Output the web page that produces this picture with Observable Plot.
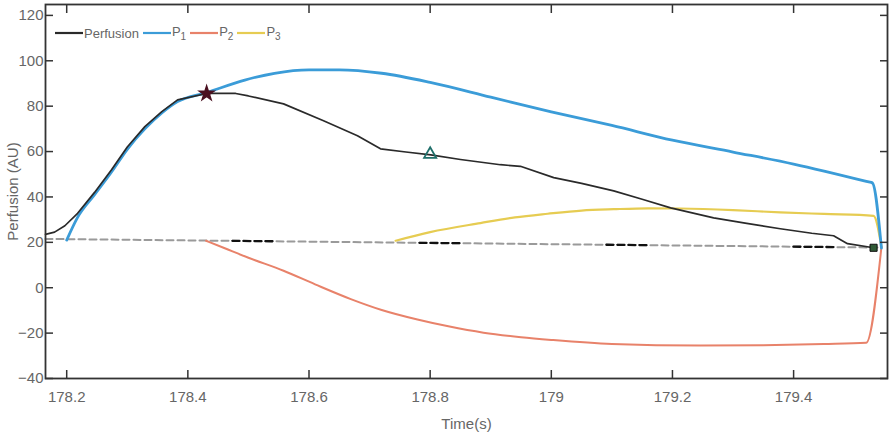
<!DOCTYPE html>
<html><head><meta charset="utf-8">
<script src="https://cdn.jsdelivr.net/npm/d3@7"></script>
<script src="https://cdn.jsdelivr.net/npm/@observablehq/plot@0.6"></script>
<style>
body{margin:0;background:#fff;}
#wrap{position:relative;width:894px;height:437px;}
#legend{position:absolute;left:55px;top:24px;display:flex;align-items:center;font-family:"Liberation Sans Narrow","Arial Narrow",sans-serif;font-size:13px;color:#666;}
#legend .it{display:flex;align-items:center;margin-right:4px;}
#legend svg{display:block;}
#legend span{margin-left:1px;}
#legend sub{font-size:10px;vertical-align:-4px;}
</style></head><body><div id="wrap"></div>
<script>
// Perfusion (black)
const perfT = [178.165,178.18,178.197,178.218,178.246,178.274,178.300,178.329,178.357,178.383,178.431,178.479,178.50,178.558,178.624,178.68,178.718,178.76,178.801,178.85,178.916,178.949,179.004,179.05,179.103,179.15,179.197,179.268,179.32,179.378,179.43,179.466,179.489,179.532];
const perfV = [23.5,24.5,27.3,32.8,42,52,62,71,77.6,82.8,85.6,85.6,84.5,81,73.6,67,61.2,59.8,58.5,56.5,54.2,53.5,48.5,46,42.7,39,35.2,30.8,28.5,26,24,22.9,19.4,17.6];
// P1 (blue)
const p1T = [178.200,178.218,178.246,178.274,178.300,178.329,178.357,178.383,178.431,178.494,178.543,178.60,178.65,178.72,178.80,178.90,179.00,179.10,179.20,179.30,179.40,179.524,179.530,179.545];
const p1V = [21,31,41,51,61,70,77,82,86,91.5,94.5,96,96,94.5,90.5,84,77.5,71.5,65,59.8,54.5,46.6,46.2,17.5];
// P2 (red)
const p2T = [178.43,178.46,178.50,178.558,178.61,178.669,178.72,178.779,178.83,178.888,178.95,179.0,179.1,179.246,179.35,179.45,179.52,179.545];
const p2V = [20.7,17.5,13.2,7.5,1.5,-5.0,-9.8,-14,-17,-19.8,-21.8,-23,-24.8,-25.5,-25.3,-24.8,-24.2,18];
// P3 (yellow)
const p3T = [178.743,178.80,178.883,178.94,178.994,179.05,179.103,179.16,179.213,179.30,179.378,179.45,179.532,179.545];
const p3V = [20.7,24.5,28.5,31,32.6,34,34.6,35,34.9,34.2,33.2,32.5,31.7,18];
// baseline (dashed)
const baseT = [178.165,179.54];
const baseV = [21.5,17.7];
const baseBlackT = [178.4736,179.54];
const baseBlackV = [20.65,17.7];
// markers
const starT = [178.431], starV = [85.6];
const triT = [178.80], triV = [58.8];
const sqT = [179.532], sqV = [17.6];
// ticks
const xTicks = [178.2,178.4,178.6,178.8,179,179.2,179.4];
const xTickLabels = ["178.2","178.4","178.6","178.8","179","179.2","179.4"];
const yTicks = [-40,-20,0,20,40,60,80,100,120];
const legendNames = ["Perfusion","P","P","P"];
const legendSubs = ["","1","2","3"];
const legendColors = ["#2a2a2a","#3b9cd8","#e8826a","#e6cc52"];

const toRows = (T,V) => T.map((t,i)=>({t, v:V[i]}));
const perf = toRows(perfT,perfV), p1 = toRows(p1T,p1V), p2 = toRows(p2T,p2V), p3 = toRows(p3T,p3V);
const base = toRows(baseT,baseV), baseB = toRows(baseBlackT,baseBlackV);

const axisStyle = {fontFamily:'"Liberation Sans Narrow","Arial Narrow",sans-serif', fontSize:"15px", color:"#666"};

const chart = Plot.plot({
  width: 894, height: 437,
  marginLeft: 45, marginRight: 7, marginTop: 4, marginBottom: 59,
  style: {...axisStyle, background:"#fff", overflow:"visible"},
  x: {domain:[178.165,179.555]},
  y: {domain:[-40,124.8]},
  marks: [
    Plot.lineY(base, {x:"t", y:"v", stroke:"#9a9a9a", strokeWidth:2, strokeDasharray:"7,4"}),
    Plot.lineY(baseB, {x:"t", y:"v", stroke:"#111", strokeWidth:2.3, strokeDasharray:"7,4,7,4,7,4,7,147"}),
    Plot.lineY(p3, {x:"t", y:"v", stroke:legendColors[3], strokeWidth:2.2, curve:"monotone-x"}),
    Plot.lineY(p2, {x:"t", y:"v", stroke:legendColors[2], strokeWidth:2, curve:"monotone-x"}),
    Plot.lineY(p1, {x:"t", y:"v", stroke:legendColors[1], strokeWidth:2.8, curve:"monotone-x"}),
    Plot.lineY(perf, {x:"t", y:"v", stroke:legendColors[0], strokeWidth:1.7, curve:"linear"}),
    Plot.dot(starT.map((t,i)=>({t,v:starV[i]})), {x:"t", y:"v", symbol:"star", r:4.5, fill:"#4a1020", stroke:"#4a1020"}),
    Plot.dot(triT.map((t,i)=>({t,v:triV[i]})), {x:"t", y:"v", symbol:"triangle", r:4.5, fill:"none", stroke:"#1f6f6a", strokeWidth:1.8}),
    Plot.dot(sqT.map((t,i)=>({t,v:sqV[i]})), {x:"t", y:"v", symbol:"square", r:4, fill:"#2f5a36", stroke:"#111", strokeWidth:1}),
    Plot.axisX({anchor:"bottom", ticks:xTicks, tickFormat:(d,i)=>xTickLabels[xTicks.indexOf(d)], tickSize:-8, tickPadding:21, stroke:"#333", strokeWidth:1.5, fill:"#666", label:"Time(s)", labelAnchor:"center", labelArrow:"none", labelOffset:50}),
    Plot.axisX({anchor:"top", ticks:xTicks, tickFormat:()=>"", tickSize:-8, stroke:"#333", strokeWidth:1.5, label:null}),
    Plot.axisY({anchor:"left", ticks:yTicks, tickSize:-8, tickPadding:10, stroke:"#333", strokeWidth:1.5, fill:"#666", label:"Perfusion (AU)", labelAnchor:"center", labelArrow:"none", labelOffset:38}),
    Plot.axisY({anchor:"right", ticks:yTicks, tickFormat:()=>"", tickSize:-8, stroke:"#333", strokeWidth:1.5, label:null}),
    Plot.frame({stroke:"#333", strokeWidth:1.8})
  ]
});
const wrap = document.getElementById("wrap");
wrap.appendChild(chart);

const leg = document.createElement("div");
leg.id = "legend";
legendNames.forEach((name,i)=>{
  const it = document.createElement("div"); it.className="it";
  const ns="http://www.w3.org/2000/svg";
  const s=document.createElementNS(ns,"svg"); s.setAttribute("width","28"); s.setAttribute("height","6");
  const l=document.createElementNS(ns,"line"); l.setAttribute("x1","0"); l.setAttribute("x2","28"); l.setAttribute("y1","3"); l.setAttribute("y2","3");
  l.setAttribute("stroke",legendColors[i]); l.setAttribute("stroke-width","2.2");
  s.appendChild(l); it.appendChild(s);
  const sp=document.createElement("span"); sp.textContent=name;
  if(legendSubs[i]){const sb=document.createElement("sub"); sb.textContent=legendSubs[i]; sp.appendChild(sb);}
  it.appendChild(sp); leg.appendChild(it);
});
wrap.appendChild(leg);
</script>
</body></html>
